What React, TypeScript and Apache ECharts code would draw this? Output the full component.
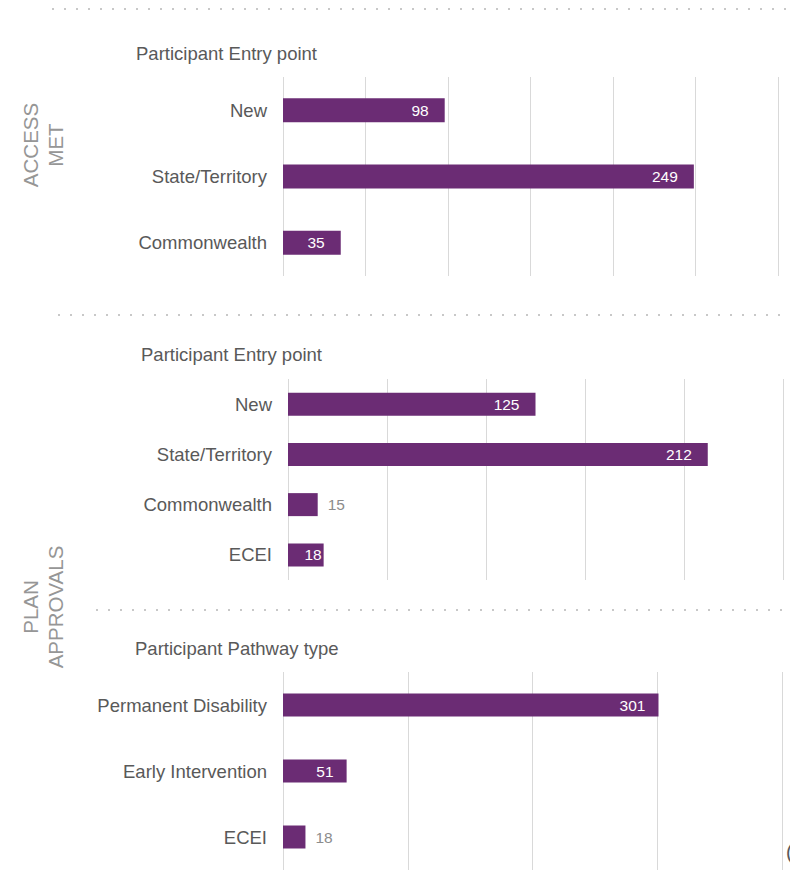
import React, { useEffect, useRef } from "react";
import * as echarts from "echarts";

const ACCESS_CATEGORIES = ["New", "State/Territory", "Commonwealth"];
const ACCESS_VALUES = [98, 249, 35];
const ENTRY_CATEGORIES = ["New", "State/Territory", "Commonwealth", "ECEI"];
const ENTRY_VALUES = [125, 212, 15, 18];
const PATHWAY_CATEGORIES = ["Permanent Disability", "Early Intervention", "ECEI"];
const PATHWAY_VALUES = [301, 51, 18];
const PANEL_TITLES = ["Participant Entry point", "Participant Entry point", "Participant Pathway type"];
const SIDE_LABELS = ["ACCESS\nMET", "PLAN\nAPPROVALS"];
const AXIS_MAX = [300, 250, 400];
const AXIS_INTERVAL = [50, 50, 100];

const FONT = "'Liberation Sans', Arial, Helvetica, sans-serif";
const PURPLE = "#6b2c74";
const TEXT = "#595959";

const PANELS = [
  { cats: ACCESS_CATEGORIES, values: ACCESS_VALUES, grid: { left: 283, top: 77, width: 495, height: 199 }, barWidth: 24, labelDist: 16, title: { x: 136, y: 53 } },
  { cats: ENTRY_CATEGORIES, values: ENTRY_VALUES, grid: { left: 288, top: 379, width: 495, height: 201 }, barWidth: 23, labelDist: 16, title: { x: 141, y: 354 } },
  { cats: PATHWAY_CATEGORIES, values: PATHWAY_VALUES, grid: { left: 283, top: 672, width: 499, height: 198 }, barWidth: 23, labelDist: 13, title: { x: 135, y: 648 } },
];

export default function App() {
  const ref = useRef<HTMLDivElement>(null);
  useEffect(() => {
    if (!ref.current) return;
    const chart = echarts.init(ref.current, null, { renderer: "svg" });
    const grids = PANELS.map((p) => ({ ...p.grid, containLabel: false }));
    const xAxis = PANELS.map((p, i) => ({
      type: "value",
      gridIndex: i,
      min: 0,
      max: AXIS_MAX[i],
      interval: AXIS_INTERVAL[i],
      axisLabel: { show: false },
      axisLine: { show: false },
      axisTick: { show: false },
      splitLine: { show: true, lineStyle: { color: "#d9d9d9", width: 1 } },
    }));
    const yAxis = PANELS.map((p, i) => ({
      type: "category",
      gridIndex: i,
      inverse: true,
      data: p.cats,
      axisLine: { show: false },
      axisTick: { show: false },
      splitLine: { show: false },
      axisLabel: { fontSize: 18.5, color: TEXT, margin: 16, fontFamily: FONT },
    }));
    const series = PANELS.map((p, i) => ({
      type: "bar",
      xAxisIndex: i,
      yAxisIndex: i,
      barWidth: p.barWidth,
      itemStyle: { color: PURPLE },
      label: {
        show: true,
        position: "insideRight",
        distance: p.labelDist,
        color: "#ffffff",
        fontSize: 15.5,
        fontFamily: FONT,
      },
      data: p.values.map((v) => {
        const px = (v / AXIS_MAX[i]) * p.grid.width;
        if (px < 32) {
          return { value: v, label: { position: "right", distance: 10, color: "#8c8c8c" } };
        }
        if (px < 45) {
          return { value: v, label: { distance: 2 } };
        }
        return { value: v };
      }),
    }));
    const graphic: any[] = [
      { type: "line", shape: { x1: 52, y1: 9, x2: 790, y2: 9 }, style: { stroke: "#c8c8c8", lineWidth: 2, lineDash: [2, 10] } },
      { type: "line", shape: { x1: 58, y1: 315, x2: 790, y2: 315 }, style: { stroke: "#c8c8c8", lineWidth: 2, lineDash: [2, 10] } },
      { type: "line", shape: { x1: 96, y1: 610, x2: 790, y2: 610 }, style: { stroke: "#c8c8c8", lineWidth: 2, lineDash: [2, 10] } },
      ...PANELS.map((p, i) => ({
        type: "text",
        x: p.title.x,
        y: p.title.y,
        style: { text: PANEL_TITLES[i], fontSize: 18.5, fontFamily: FONT, fill: TEXT, align: "left", verticalAlign: "middle" },
      })),
      {
        type: "text", x: 43, y: 145, rotation: Math.PI / 2,
        style: { text: SIDE_LABELS[0], fontSize: 20.5, lineHeight: 25, fontFamily: FONT, fill: "#969696", align: "center", verticalAlign: "middle" },
      },
      {
        type: "text", x: 43, y: 607, rotation: Math.PI / 2,
        style: { text: SIDE_LABELS[1], fontSize: 20.5, lineHeight: 25, fontFamily: FONT, fill: "#969696", align: "center", verticalAlign: "middle" },
      },
      {
        type: "text", x: 786, y: 852,
        style: { text: "(", fontSize: 20, fontFamily: FONT, fill: TEXT, align: "left", verticalAlign: "middle" },
      },
    ];
    chart.setOption({
      animation: false,
      backgroundColor: "#ffffff",
      textStyle: { fontFamily: FONT },
      grid: grids,
      xAxis,
      yAxis,
      series,
      graphic,
    });
    return () => chart.dispose();
  }, []);
  return <div ref={ref} style={{ position: "absolute", left: 0, top: 0, width: 790, height: 890 }} />;
}
